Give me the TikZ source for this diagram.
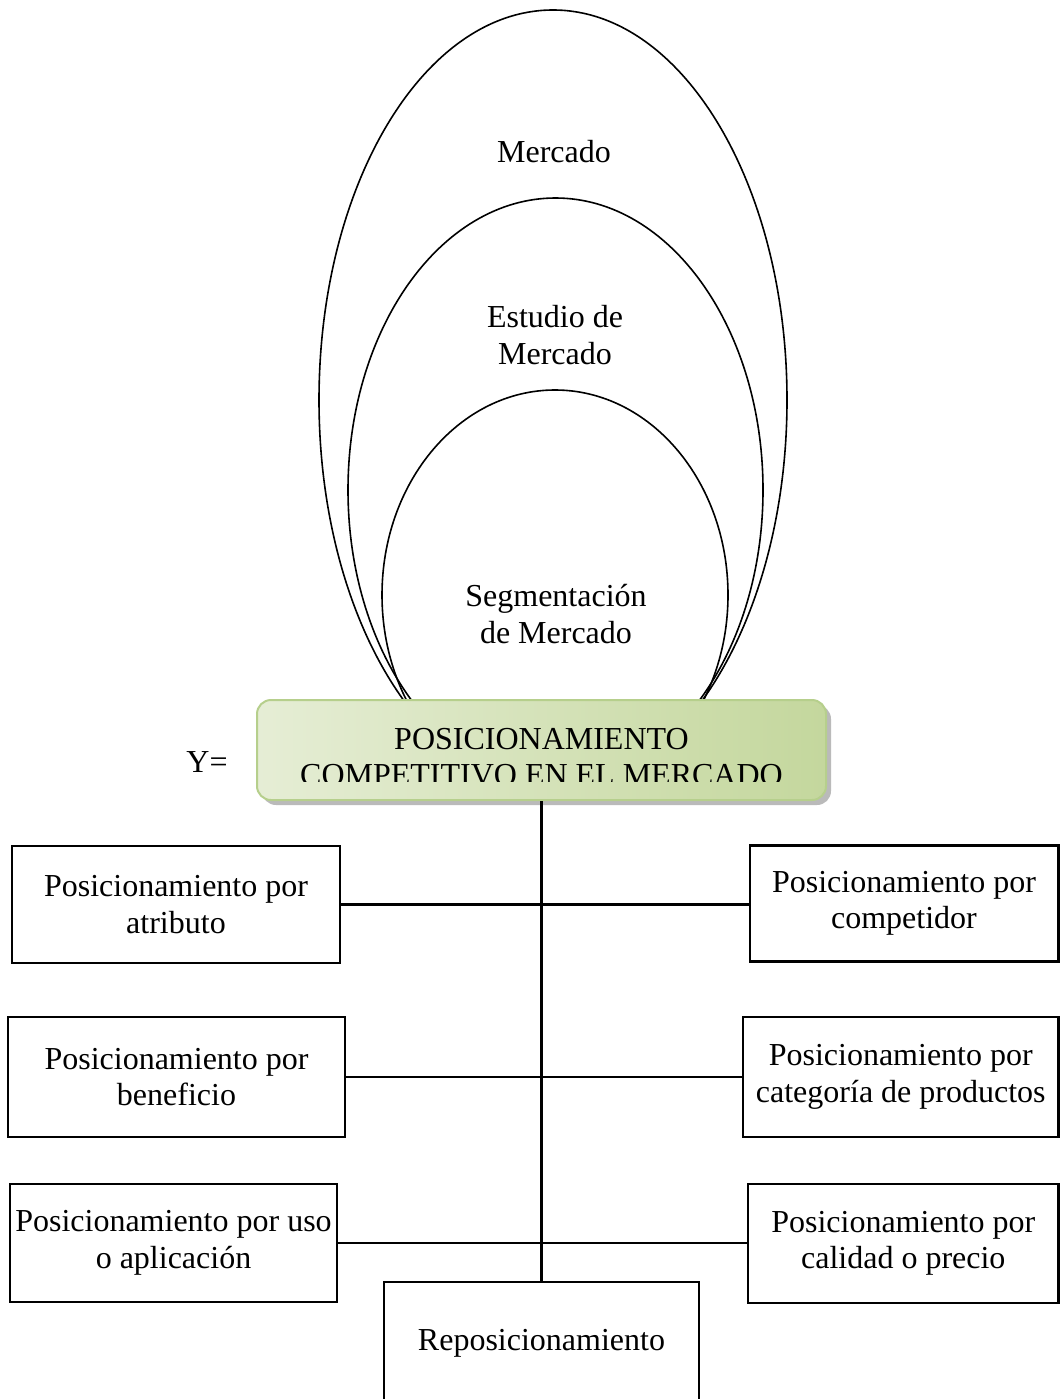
\documentclass[tikz,border=0pt]{standalone}
\usepackage{fontspec}
\setmainfont{Liberation Serif}
\usetikzlibrary{shadows}
\definecolor{gLight}{HTML}{EEF3E3}
\definecolor{gDark}{HTML}{C4D79D}
\definecolor{gBorder}{HTML}{B6CF8C}
\begin{document}
\begin{tikzpicture}[x=1pt,y=-1pt,
  txt/.style={font=\fontsize{32}{36.5}\selectfont, align=center},
  pbox/.style={draw, line width=2.5pt, txt, inner sep=0pt},
  ell/.style={draw, line width=1.6pt},
  link/.style={line width=2.6pt},
  trunk/.style={line width=3.8pt},
  greenbox/.style={draw=gBorder, line width=2pt, rounded corners=14pt,
    left color=gLight!80!gDark, middle color=gLight, right color=gDark,
    drop shadow={shadow xshift=5pt, shadow yshift=-5pt, fill=black!45, opacity=0.6}}]
\useasboundingbox (0,0) rectangle (1061,1399);
\begin{scope}
\clip (0,0) rectangle (1061,1399);
% ellipses
\draw[ell] (553,400) ellipse [x radius=234, y radius=390];
\draw[ell] (555.5,490) ellipse [x radius=207.5, y radius=292];
\draw[ell] (555,595) ellipse [x radius=173, y radius=205];
\node[txt] (mercado) at (554,152) {Mercado};
\node[txt] (estudio) at (555,335) {Estudio de\\Mercado};
\node[txt] (segm) at (556,614) {Segmentación\\de Mercado};
% central box
\node[greenbox, minimum width=569, minimum height=100, inner sep=0pt] (pos) at (541.5,750) {};
\begin{scope}
\clip (257,700) rectangle (826,781);
\node[txt] (postxt) at (541.5,757) {POSICIONAMIENTO\\COMPETITIVO EN EL MERCADO};
\end{scope}
\node[txt] (yeq) at (207,762) {Y=};
% side boxes
\node[pbox, minimum width=328, minimum height=117] (atrib) at (176,904.5) {Posicionamiento por\\atributo};
\node[pbox, minimum width=337, minimum height=120] (benef) at (176.5,1077) {Posicionamiento por\\beneficio};
\node[pbox, minimum width=327, minimum height=118] (uso) at (173.5,1243) {Posicionamiento por uso\\o aplicación};
\node[pbox, minimum width=308.5, minimum height=116] (comp) at (904,903.5) {Posicionamiento por\\competidor};
\node[pbox, minimum width=315.5, minimum height=120] (categ) at (900.75,1077) {Posicionamiento por\\categoría de productos};
\node[pbox, minimum width=310.5, minimum height=119] (calid) at (903.25,1243.5) {Posicionamiento por\\calidad o precio};
\node[pbox, minimum width=315, minimum height=122] (repos) at (541.5,1343) {Reposicionamiento};
% connectors
\draw[trunk] (pos.south) -- (repos.north);
\draw[link] (atrib.east) -- (atrib.east -| comp.west);
\draw[link] (benef.east) -- (benef.east -| categ.west);
\draw[link] (uso.east) -- (uso.east -| calid.west);
\end{scope}
\end{tikzpicture}
\end{document}
